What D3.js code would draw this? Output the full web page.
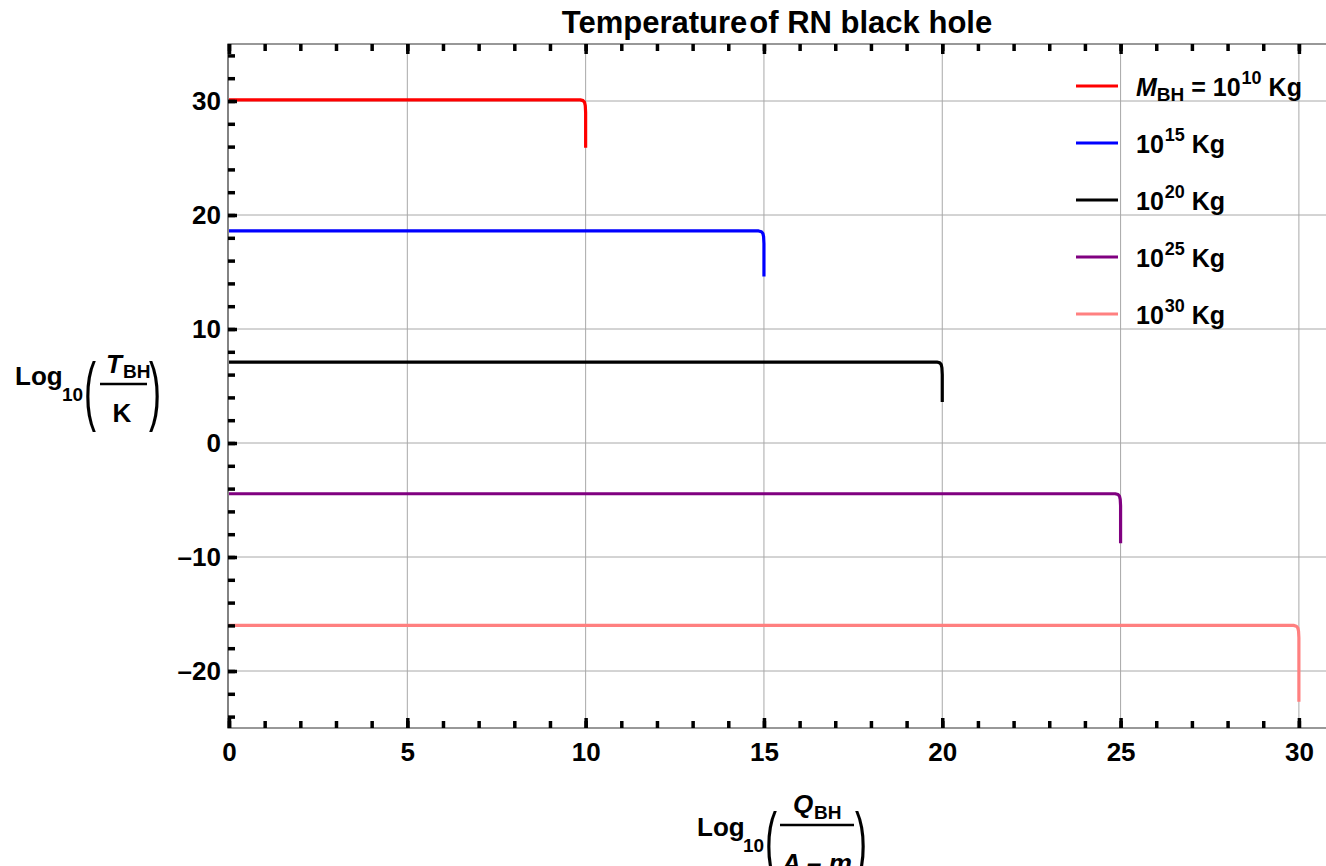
<!DOCTYPE html>
<html>
<head>
<meta charset="utf-8">
<script src="https://cdn.jsdelivr.net/npm/d3@7"></script>
<style>
  body { margin: 0; background: #fff; }
  text { font-family: "Liberation Sans", Arial, sans-serif; font-weight: bold; fill: #000; }
</style>
</head>
<body>
<div id="chart"></div>
<script>
// tick values
var xMajor = [0, 5, 10, 15, 20, 25, 30];
var xMinor = d3.range(0, 31, 1);
var yMajor = [-20, -10, 0, 10, 20, 30];
var yMinor = d3.range(-24, 35, 2);

// curves: [log10 Q, log10 T]
var m10 = [[0, 30.1], [9.85, 30.1], [9.93, 30.03], [9.97, 29.88], [9.99, 29.6], [10, 29.0], [10, 25.9]];
var m15 = [[0, 18.6], [14.85, 18.6], [14.93, 18.53], [14.97, 18.38], [14.99, 18.1], [15, 17.5], [15, 14.6]];
var m20 = [[0, 7.1], [19.85, 7.1], [19.93, 7.03], [19.97, 6.88], [19.99, 6.6], [20, 6.0], [20, 3.6]];
var m25 = [[0, -4.45], [24.85, -4.45], [24.93, -4.52], [24.97, -4.67], [24.99, -4.95], [25, -5.5], [25, -8.8]];
var m30 = [[0, -16.0], [29.85, -16.0], [29.93, -16.07], [29.97, -16.22], [29.99, -16.5], [30, -17.1], [30, -22.7]];

var exponents = ["10", "15", "20", "25", "30"];
var colors = ["#ff0000", "#0000ff", "#000000", "#800080", "#ff8080"];
var series = [m10, m15, m20, m25, m30];

var W = 1326, H = 866;
var plotLeft = 228, plotTop = 44, plotBottom = 728, plotRight = 1326;

var svg = d3.select("#chart").append("svg")
    .attr("width", W)
    .attr("height", H);

var x = d3.scaleLinear().domain([0, 30.76]).range([229, plotRight]);
var y = d3.scaleLinear().domain([-25, 35]).range([plotBottom, plotTop]);

// grid
svg.append("g")
    .selectAll("line")
    .data(xMajor.slice(1))
    .enter()
    .append("line")
        .attr("x1", function(d) { return x(d); })
        .attr("x2", function(d) { return x(d); })
        .attr("y1", plotTop)
        .attr("y2", plotBottom)
        .style("stroke", "#a8a8a8")
        .style("stroke-width", 1);

svg.append("g")
    .selectAll("line")
    .data(yMajor)
    .enter()
    .append("line")
        .attr("x1", plotLeft)
        .attr("x2", plotRight)
        .attr("y1", function(d) { return y(d); })
        .attr("y2", function(d) { return y(d); })
        .style("stroke", "#a8a8a8")
        .style("stroke-width", 1);

// curves
var line = d3.line()
    .x(function(d) { return x(d[0]); })
    .y(function(d) { return y(d[1]); });

svg.append("g")
    .selectAll("path")
    .data(series)
    .enter()
    .append("path")
        .attr("d", line)
        .style("fill", "none")
        .style("stroke", function(d, i) { return colors[i]; })
        .style("stroke-width", 3.2)
        .style("stroke-linejoin", "round");

// frame
svg.append("path")
    .attr("d", "M" + plotRight + "," + plotTop + "H" + plotLeft + "V" + plotBottom + "H" + plotRight)
    .style("fill", "none")
    .style("stroke", "#333")
    .style("stroke-width", 1.2);

// axes (ticks point inward)
function styleTicks(g) {
    g.select(".domain").remove();
    g.selectAll(".tick line").style("stroke", "#000").style("stroke-width", 3.5);
    g.selectAll(".tick text")
        .style("font-size", "26px")
        .style("font-family", "'Liberation Sans', Arial, sans-serif")
        .style("font-weight", "bold")
        .style("fill", "#000");
}

var fmt = function(d) { return d < 0 ? "\u2013" + Math.abs(d) : String(d); };

svg.append("g")
    .attr("transform", "translate(0," + plotBottom + ")")
    .call(d3.axisBottom(x).tickValues(xMinor).tickSize(-7).tickSizeOuter(0).tickFormat(""))
    .call(styleTicks);
svg.append("g")
    .attr("transform", "translate(0," + plotBottom + ")")
    .call(d3.axisBottom(x).tickValues(xMajor).tickSize(-10).tickSizeOuter(0).tickPadding(15).tickFormat(fmt))
    .call(styleTicks);

svg.append("g")
    .attr("transform", "translate(0," + plotTop + ")")
    .call(d3.axisTop(x).tickValues(xMinor).tickSize(-7).tickSizeOuter(0).tickFormat(""))
    .call(styleTicks);
svg.append("g")
    .attr("transform", "translate(0," + plotTop + ")")
    .call(d3.axisTop(x).tickValues(xMajor).tickSize(-10).tickSizeOuter(0).tickFormat(""))
    .call(styleTicks);

svg.append("g")
    .attr("transform", "translate(" + plotLeft + ",0)")
    .call(d3.axisLeft(y).tickValues(yMinor).tickSize(-7).tickSizeOuter(0).tickFormat(""))
    .call(styleTicks);
svg.append("g")
    .attr("transform", "translate(" + plotLeft + ",0)")
    .call(d3.axisLeft(y).tickValues(yMajor).tickSize(-9).tickSizeOuter(0).tickPadding(7).tickFormat(fmt))
    .call(styleTicks);

// title
var title = svg.append("text")
    .attr("x", 777)
    .attr("y", 33)
    .attr("text-anchor", "middle")
    .style("font-size", "31px");
title.append("tspan").text("Temperature");
title.append("tspan").attr("dx", 2).text("of RN black hole");

// y label
var yl = svg.append("g");
yl.append("text").attr("x", 15).attr("y", 385).style("font-size", "26px").text("Log");
yl.append("text").attr("x", 62).attr("y", 401).style("font-size", "19px").text("10");
yl.append("text").attr("transform", "translate(84,416) scale(1,2.1)").style("font-size", "36px").style("font-weight", "normal").text("(");
yl.append("text").attr("transform", "translate(149,416) scale(1,2.1)").style("font-size", "36px").style("font-weight", "normal").text(")");
yl.append("line").attr("x1", 100).attr("x2", 147).attr("y1", 384).attr("y2", 384).style("stroke", "#000").style("stroke-width", 2.5);
yl.append("text").attr("x", 106).attr("y", 373).style("font-size", "26px").style("font-style", "italic").text("T");
yl.append("text").attr("x", 123).attr("y", 378).style("font-size", "19px").text("BH");
yl.append("text").attr("x", 122).attr("y", 422).attr("text-anchor", "middle").style("font-size", "26px").text("K");

// x label
var xl = svg.append("g");
xl.append("text").attr("x", 697).attr("y", 836).style("font-size", "26px").text("Log");
xl.append("text").attr("x", 743).attr("y", 852).style("font-size", "19px").text("10");
xl.append("text").attr("transform", "translate(765,866) scale(1,2.1)").style("font-size", "36px").style("font-weight", "normal").text("(");
xl.append("text").attr("transform", "translate(855,866) scale(1,2.1)").style("font-size", "36px").style("font-weight", "normal").text(")");
xl.append("line").attr("x1", 780).attr("x2", 854).attr("y1", 825).attr("y2", 825).style("stroke", "#000").style("stroke-width", 2.5);
xl.append("text").attr("x", 793).attr("y", 813).style("font-size", "26px").style("font-style", "italic").text("Q");
xl.append("text").attr("x", 814).attr("y", 819).style("font-size", "19px").text("BH");
xl.append("text").attr("x", 817).attr("y", 872).attr("text-anchor", "middle").style("font-size", "26px").style("font-style", "italic").text("A \u2013 m");

// legend
var lg = svg.append("g")
    .selectAll("g")
    .data(exponents)
    .enter()
    .append("g")
        .attr("transform", function(d, i) { return "translate(1076," + (86 + i * 57) + ")"; });

lg.append("line")
    .attr("x1", 0)
    .attr("x2", 42)
    .style("stroke", function(d, i) { return colors[i]; })
    .style("stroke-width", 3.2);

var lt = lg.append("text")
    .attr("x", 60)
    .attr("y", 9.5)
    .style("font-size", "25px");
lt.each(function(d, i) {
    var t = d3.select(this);
    if (i === 0) {
        t.append("tspan").style("font-style", "italic").text("M");
        t.append("tspan").attr("dy", 5).style("font-size", "19px").text("BH");
        t.append("tspan").attr("dy", -5).text(" = 10");
    } else {
        t.append("tspan").text("10");
    }
    t.append("tspan").attr("dy", -12).attr("dx", 1).style("font-size", "18px").text(d);
    t.append("tspan").attr("dy", 12).text(" Kg");
});
</script>
</body>
</html>
